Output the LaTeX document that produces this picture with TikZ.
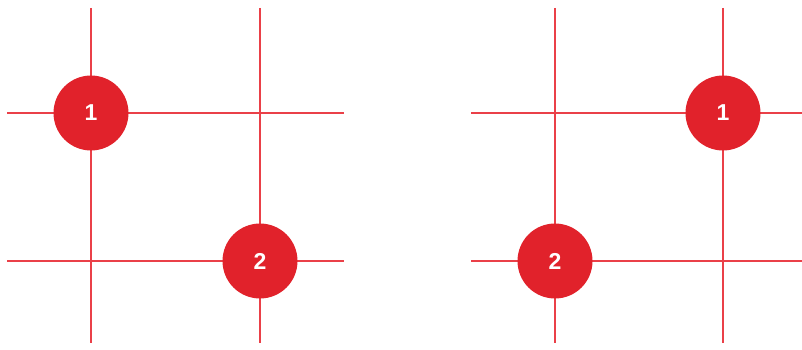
\documentclass[tikz,border=0pt]{standalone}
\usepackage{fontspec}
\setmainfont{Liberation Sans}
\definecolor{dotred}{HTML}{E1222B}
\definecolor{linered}{HTML}{EA4048}
\begin{document}
\begin{tikzpicture}[x=1pt,y=-1pt,
  gridline/.style={draw=linered,line width=1.8pt},
  dot/.style={circle,fill=dotred,minimum size=75pt,inner sep=0pt,text=white,font=\bfseries\fontsize{23}{23}\selectfont}]
\useasboundingbox (0,0) rectangle (802,350);
% left grid
\coordinate (lv1t) at (91,8); \coordinate (lv1b) at (91,343);
\coordinate (lv2t) at (260,8); \coordinate (lv2b) at (260,343);
\coordinate (lh1l) at (7,113); \coordinate (lh1r) at (344,113);
\coordinate (lh2l) at (7,261); \coordinate (lh2r) at (344,261);
\draw[gridline] (lv1t) -- (lv1b);
\draw[gridline] (lv2t) -- (lv2b);
\draw[gridline] (lh1l) -- (lh1r);
\draw[gridline] (lh2l) -- (lh2r);
\node[dot] (L1) at (91,113) {1};
\node[dot] (L2) at (260,261) {2};
% right grid
\coordinate (rv1t) at (555,8); \coordinate (rv1b) at (555,343);
\coordinate (rv2t) at (723,8); \coordinate (rv2b) at (723,343);
\coordinate (rh1l) at (471,113); \coordinate (rh1r) at (802,113);
\coordinate (rh2l) at (471,261); \coordinate (rh2r) at (802,261);
\draw[gridline] (rv1t) -- (rv1b);
\draw[gridline] (rv2t) -- (rv2b);
\draw[gridline] (rh1l) -- (rh1r);
\draw[gridline] (rh2l) -- (rh2r);
\node[dot] (R1) at (723,113) {1};
\node[dot] (R2) at (555,261) {2};
\end{tikzpicture}
\end{document}
